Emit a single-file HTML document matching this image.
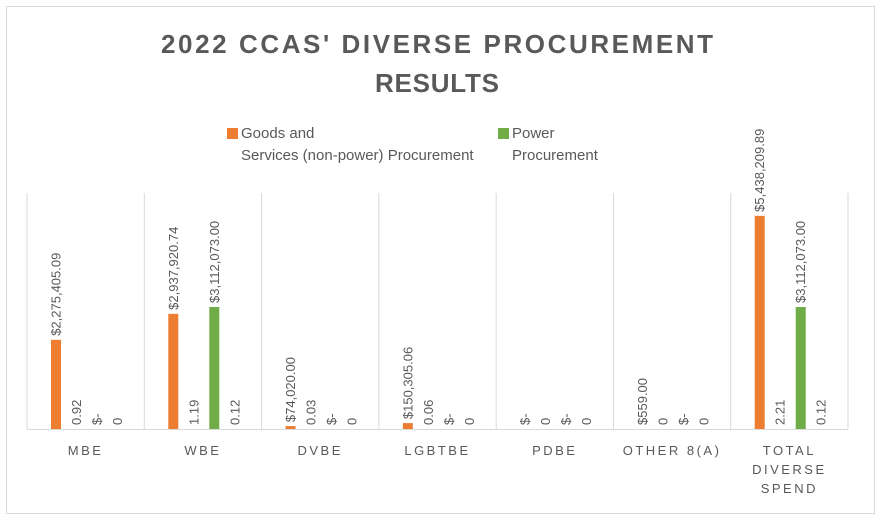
<!DOCTYPE html>
<html><head><meta charset="utf-8"><style>
html,body{margin:0;padding:0;background:#fff;}
svg{display:block;font-family:"Liberation Sans",sans-serif;}
</style></head><body>
<svg id="chart" width="881" height="520" viewBox="0 0 881 520">
<rect x="6.5" y="6.5" width="868" height="507" fill="#fff" stroke="#d9d9d9"/>
<text x="437" y="53" text-anchor="middle" font-size="26" font-weight="bold" fill="#595959" textLength="552" lengthAdjust="spacing">2022 CCAS' DIVERSE PROCUREMENT</text>
<text x="437" y="92" text-anchor="middle" font-size="26" font-weight="bold" fill="#595959" textLength="124" lengthAdjust="spacing">RESULTS</text>
<g>
<g>
<rect x="227" y="128" width="11" height="11" fill="#ed7d31"/>
<text x="241" y="138" font-size="15" fill="#595959">Goods and</text>
<text x="241" y="160" font-size="15" fill="#595959">Services (non-power) Procurement</text>
</g>
<g>
<rect x="498" y="128" width="11" height="11" fill="#70ad47"/>
<text x="512" y="138" font-size="15" fill="#595959">Power</text>
<text x="512" y="160" font-size="15" fill="#595959">Procurement</text>
</g>
</g>
<g id="plot"></g>
</svg>
<script>
const categories = [["MBE"],["WBE"],["DVBE"],["LGBTBE"],["PDBE"],["OTHER 8(A)"],["TOTAL","DIVERSE","SPEND"]];
const goodsValues = [2275405.09, 2937920.74, 74020.00, 150305.06, 0, 559.00, 5438209.89];
const goodsPctLabels = ["0.92","1.19","0.03","0.06","0","0","2.21"];
const powerValues = [0, 3112073.00, 0, 0, 0, 0, 3112073.00];
const powerPctLabels = ["0","0.12","0","0","0","0","0.12"];
const goodsLabels = ["$2,275,405.09","$2,937,920.74","$74,020.00","$150,305.06","$-","$559.00","$5,438,209.89"];
const powerLabels = ["$-","$3,112,073.00","$-","$-","$-","$-","$3,112,073.00"];

const NS = "http://www.w3.org/2000/svg";
const plot = document.getElementById("plot");
const x0 = 27, x1 = 848, yBase = 429;
const catW = (x1 - x0) / categories.length;
function xCat(i){ return x0 + i * catW; }
function yVal(v){ return yBase - v * 39.2e-6; }
function mk(tag, attrs){ const e = document.createElementNS(NS, tag); for (const k in attrs) e.setAttribute(k, attrs[k]); plot.appendChild(e); return e; }

for (let i = 0; i <= categories.length; i++) {
  const g = mk("line", {x1: xCat(i), x2: xCat(i), y1: 193, y2: yBase, stroke: "#d9d9d9", "stroke-width": 1});
  
  
}
const ax = mk("line", {x1: x0, x2: x1, y1: yBase + 0.5, y2: yBase + 0.5, stroke: "#d9d9d9", "stroke-width": 1});



function label(txt, cx, yTop, name){
  const t = mk("text", {x: 0, y: 0, "font-size": 13, fill: "#595959", "text-anchor": "start",
    transform: "translate(" + (cx + 4.5) + "," + (yTop - 4) + ") rotate(-90)"});
  t.textContent = txt;
  
  
}

categories.forEach((c, i) => {
  const bx = xCat(i) + 24;
  const slot = 20.5;
  const gy = yVal(goodsValues[i]);
  if (goodsValues[i] > 0) {
    const b = mk("rect", {x: bx, y: gy, width: 10, height: yBase - gy, fill: "#ed7d31"});
    
    
  }
  label(goodsLabels[i], bx + 5, gy, 'goods-value-label');
  label(goodsPctLabels[i], bx + slot + 5, yBase, 'goods-pct-label');
  const py = yVal(powerValues[i]);
  if (powerValues[i] > 0) {
    const b = mk("rect", {x: bx + 2 * slot, y: py, width: 10, height: yBase - py, fill: "#70ad47"});
    
    
  }
  label(powerLabels[i], bx + 2 * slot + 5, py, 'power-value-label');
  label(powerPctLabels[i], bx + 3 * slot + 5, yBase, 'power-pct-label');
  c.forEach((line, j) => {
    const t = mk("text", {x: xCat(i) + catW / 2, y: 455 + j * 19, "font-size": 13, fill: "#595959", "text-anchor": "middle", "letter-spacing": "2.5"});
    t.textContent = line;
    
    
  });
});
</script>
</body></html>
